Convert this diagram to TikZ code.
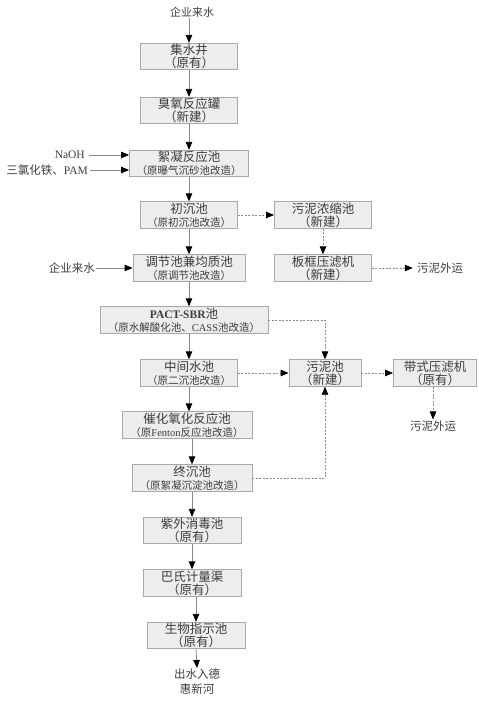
\documentclass[tikz,border=0pt]{standalone}
\usepackage{fontspec}
\setmainfont{Noto Sans CJK SC}
\newfontfamily\latinfont{Liberation Serif}
\usepackage{xcolor}
\usepackage{tikz}
\usetikzlibrary{arrows.meta}

\definecolor{boxFill}{HTML}{EDEDED}
\definecolor{boxLine}{HTML}{A8A8A8}
\definecolor{txtGray}{HTML}{3C3C3C}
\definecolor{lineGray}{HTML}{8A8A8A}

\newcommand{\obsline}[1]{{\fontsize{10.5}{13}\selectfont #1}}

\begin{document}
\begin{tikzpicture}[x=1pt, y=-1pt,
    % Estilos dos tanques e das linhas
    poolnode/.style={rectangle, draw=boxLine, line width=0.8pt, fill=boxFill, inner sep=0pt, minimum height=26.5pt, align=center, text=txtGray, font=\fontsize{12.5}{13}\selectfont},
    labelnode/.style={inner sep=1pt, align=center, text=txtGray, font=\fontsize{11.5}{15}\selectfont},
    linhaFluxo/.style={draw=lineGray, line width=0.8pt, -{Triangle[length=8pt,width=6.5pt,black]}},
    linhaLodo/.style={linhaFluxo, dash pattern=on 2pt off 1.5pt}
]
\useasboundingbox (0,0) rectangle (479,704);

% ==========================
% COLUNAS X
% ==========================
\def\XA{189}
\def\XB{323}
\def\XC{435}

% ==========================
% LINHA PRINCIPAL DE AGUA
% ==========================
\node[labelnode, font=\fontsize{11}{13}\selectfont] (in_top) at (192, 12) {企业来水};
\node[poolnode, minimum width=97pt] (p_jishui) at (\XA, 56.5) {集水井\\（原有）};
\node[poolnode, minimum width=97pt] (p_chouyang) at (\XA, 110.5) {臭氧反应罐\\（新建）};
\node[poolnode, minimum width=119pt] (p_xuning) at (\XA, 163.5) {絮凝反应池\\\obsline{（原曝气沉砂池改造）}};
\node[poolnode, minimum width=97pt] (p_chuchen) at (\XA, 215) {初沉池\\\obsline{（原初沉池改造）}};
\node[poolnode, minimum width=112pt] (p_tiaojie) at (\XA, 268) {调节池兼均质池\\\obsline{（原调节池改造）}};
\node[poolnode, minimum width=168pt] (p_pact) at (184, 320) {{\latinfont\bfseries\fontsize{11.5}{13}\selectfont PACT-SBR}池\\\obsline{（原水解酸化池、{\latinfont CASS}池改造）}};
\node[poolnode, minimum width=97pt] (p_zhongjian) at (\XA, 373) {中间水池\\\obsline{（原二沉池改造）}};
\node[poolnode, minimum width=130pt] (p_cuihua) at (187, 425) {催化氧化反应池\\\obsline{（原{\latinfont Fenton}反应池改造）}};
\node[poolnode, minimum width=120pt] (p_zhongchen) at (192, 478) {终沉池\\\obsline{（原絮凝沉淀池改造）}};
\node[poolnode, minimum width=98pt] (p_ziwai) at (192, 530.5) {紫外消毒池\\（原有）};
\node[poolnode, minimum width=98pt] (p_bashi) at (192, 583) {巴氏计量渠\\（原有）};
\node[poolnode, minimum width=98pt] (p_shengwu) at (196, 635.5) {生物指示池\\（原有）};
\node[labelnode, anchor=north] (out_rio) at (197, 668) {出水入德\\惠新河};

% entradas laterais
\node[labelnode, anchor=east] (in_naoh) at (86, 155) {\latinfont NaOH};
\node[labelnode, anchor=east] (in_pam) at (89, 170) {三氯化铁、{\latinfont PAM}};
\node[labelnode, anchor=east] (in_side) at (96, 268) {企业来水};

% ==========================
% LINHA DE LODO
% ==========================
\node[poolnode, minimum width=97pt] (s_nongsuo) at (\XB, 215) {污泥浓缩池\\（新建）};
\node[poolnode, minimum width=97pt] (s_bankuang) at (\XB, 268) {板框压滤机\\（新建）};
\node[labelnode] (s_out1) at (440, 268) {污泥外运};
\node[poolnode, minimum width=72pt] (s_wuni) at (325, 373) {污泥池\\（新建）};
\node[poolnode, minimum width=83pt] (s_daishi) at (\XC, 373) {带式压滤机\\（原有）};
\node[labelnode] (s_out2) at (433, 426) {污泥外运};

% ==========================
% CONEXOES
% ==========================
\draw[linhaFluxo] (in_top.south -| p_jishui.north) -- (p_jishui.north);
\draw[linhaFluxo] (p_jishui.south) -- (p_chouyang.north);
\draw[linhaFluxo] (p_chouyang.south) -- (p_xuning.north);
\draw[linhaFluxo] (p_xuning.south) -- (p_chuchen.north);
\draw[linhaFluxo] (p_chuchen.south) -- (p_tiaojie.north);
\draw[linhaFluxo] (p_tiaojie.south) -- (p_tiaojie.south |- p_pact.north);
\draw[linhaFluxo] (p_zhongjian.north |- p_pact.south) -- (p_zhongjian.north);
\draw[linhaFluxo] (p_zhongjian.south) -- (p_zhongjian.south |- p_cuihua.north);
\draw[linhaFluxo] (p_zhongchen.north |- p_cuihua.south) -- (p_zhongchen.north);
\draw[linhaFluxo] (p_zhongchen.south) -- (p_ziwai.north);
\draw[linhaFluxo] (p_ziwai.south) -- (p_bashi.north);
\draw[linhaFluxo] (p_shengwu.north |- p_bashi.south) -- (p_shengwu.north);
\draw[linhaFluxo] (p_shengwu.south) -- (out_rio.north);

\draw[linhaFluxo, shorten <=3pt] (in_naoh.east) -- (in_naoh.east -| p_xuning.west);
\draw[linhaFluxo, shorten <=1pt] (in_pam.east) -- (in_pam.east -| p_xuning.west);
\draw[linhaFluxo] (in_side.east) -- (p_tiaojie.west);

% lodo (tracejado)
\draw[linhaLodo] (p_chuchen.east) -- (s_nongsuo.west);
\draw[linhaLodo] (s_nongsuo.south) -- (s_bankuang.north);
\draw[linhaLodo, shorten >=3pt] (s_bankuang.east) -- (s_out1.west);
\draw[linhaLodo] (p_pact.east) -| (s_wuni.north);
\draw[linhaLodo] (p_zhongjian.east) -- (s_wuni.west);
\draw[linhaLodo] (s_wuni.east) -- (s_daishi.west);
\draw[linhaLodo] (s_daishi.south -| s_out2.north) -- (s_out2.north);
\draw[linhaLodo] (p_zhongchen.east) -| (s_wuni.south);

\end{tikzpicture}
\end{document}
